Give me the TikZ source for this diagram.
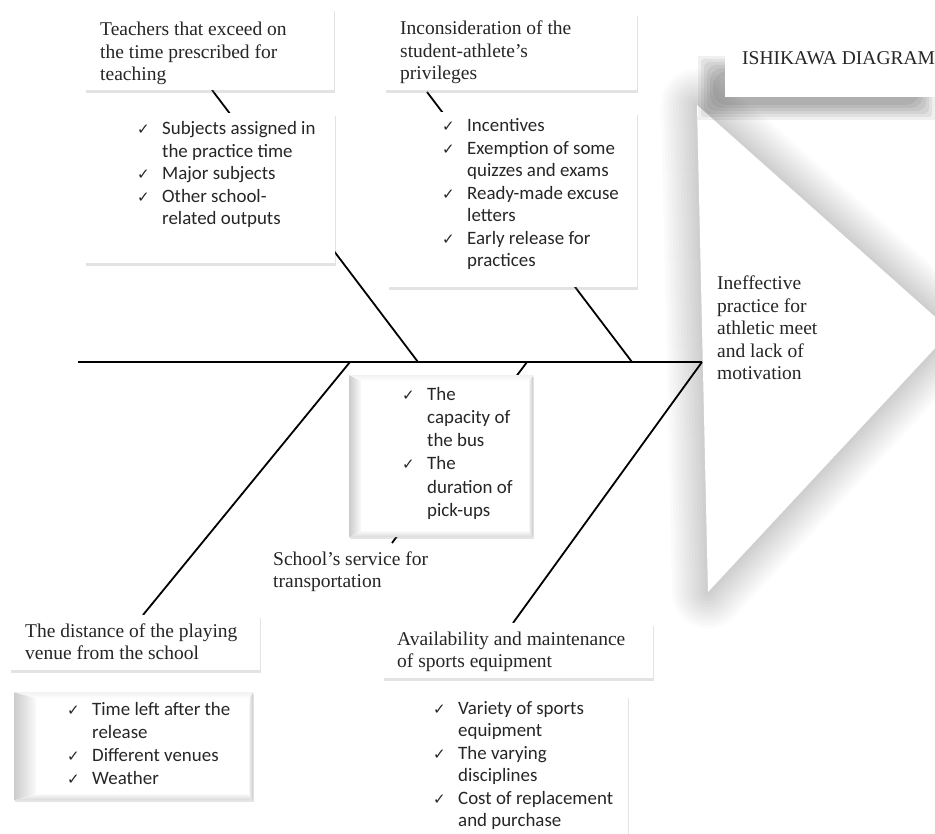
\documentclass[tikz,border=0pt]{standalone}
\usepackage{fontspec}
\setmainfont{Liberation Serif}
\newfontfamily\listfont{Carlito}
\newfontfamily\ckfont{DejaVu Sans}
\usetikzlibrary{shadows,calc}
\definecolor{txt}{HTML}{262626}
\newcommand{\ck}{{\ckfont\fontsize{15}{15}\selectfont ✓}}
\newcommand{\nl}{\hfil\break}
\newcommand{\litem}[1]{\par\hangindent=25pt\hangafter=1\noindent\makebox[25pt][l]{\ck}#1}
\newcommand{\serifset}{\fontsize{19.5}{22.5}\selectfont\raggedright}
\newcommand{\sansset}{\listfont\fontsize{18.9}{22.5}\selectfont\raggedright}
\tikzset{
  box/.style={fill=white, draw=none, anchor=north west, inner sep=0,
    drop shadow={shadow xshift=0.8pt, shadow yshift=-2.5pt, opacity=0.22, fill=gray}},
  bevel/.style={fill=white, draw=none, anchor=north west, inner sep=0,
    path picture={
      \coordinate (nw) at (path picture bounding box.north west);
      \coordinate (ne) at (path picture bounding box.north east);
      \coordinate (sw) at (path picture bounding box.south west);
      \coordinate (se) at (path picture bounding box.south east);
      \shade[left color=gray!40, right color=gray!3] (nw) -- (sw) -- ([shift={(#1,6pt)}]sw) -- ([shift={(#1,-6pt)}]nw) -- cycle;
      \shade[top color=gray!5, bottom color=gray!30] (sw) -- (se) -- ([shift={(-4pt,6pt)}]se) -- ([shift={(#1,6pt)}]sw) -- cycle;
      \shade[left color=gray!10, right color=gray!45] (se) -- (ne) -- ([shift={(-4pt,-6pt)}]ne) -- ([shift={(-4pt,6pt)}]se) -- cycle;
      \shade[top color=gray!10, bottom color=white] (ne) -- (nw) -- ([shift={(#1,-6pt)}]nw) -- ([shift={(-4pt,-6pt)}]ne) -- cycle;
    },
    drop shadow={shadow xshift=0.8pt, shadow yshift=-2pt, opacity=0.2, fill=gray}},
  lbl/.style={anchor=base west, inner sep=0, text=txt},
  bone/.style={draw=black, line width=1.8pt},
}
\begin{document}
\begin{tikzpicture}[x=1pt,y=-1pt]
\useasboundingbox (0,0) rectangle (935,834);
\clip (0,0) rectangle (935,834);
\fill[white] (0,0) rectangle (935,834);

% ---- head (effect) with soft halo
\foreach \w in {72,66,...,6}
  \draw[line width=\w pt, black, opacity=0.016, line join=round] (697,105) -- (951,331) -- (708,592) -- cycle;
\fill[white] (697,105) -- (951,331) -- (708,592) -- cycle;

% ---- title box with shadow
\foreach \d in {0,3,6,9,12,15}
  \fill[black, opacity=0.06, rounded corners=\d pt] ($(698,56)+(\d,\d)$) rectangle ($(935,120)-(\d,\d)$);
\node[fill=white, anchor=north west, inner sep=0, minimum width=215pt, minimum height=55pt] (titlebox) at (725,42) {};
\node[lbl] (title) at (742,65) {\fontsize{19.5}{22.5}\selectfont ISHIKAWA DIAGRAM};

% ---- spine and bones
\coordinate (tail) at (78,362);
\coordinate (head) at (702,362);
\coordinate (s1) at (418,362);
\coordinate (s2) at (632,362);
\coordinate (s3) at (527,362);
\coordinate (s4) at (350,362);
\coordinate (b1) at (212,90);
\coordinate (b2) at (427,92);
\coordinate (b3) at (392,543);
\coordinate (b4) at (143,615);
\coordinate (b5) at (513,623);
\draw[bone] (tail) -- (head);
\draw[bone] (b1) -- (s1);
\draw[bone] (b2) -- (s2);
\draw[bone] (s3) -- (b3);
\draw[bone] (s4) -- (b4);
\draw[bone] (head) -- (b5);

% ---- cause boxes
\node[box, minimum width=249pt, minimum height=82pt] (t1) at (85,8) {};
\node[box, minimum width=250pt, minimum height=150pt] (l1) at (85,113) {};
\node[box, minimum width=252pt, minimum height=77pt] (t2) at (385,13) {};
\node[box, minimum width=249pt, minimum height=175pt] (l2) at (388,112) {};
\node[bevel=12pt, minimum width=184pt, minimum height=162pt] (l3) at (349,375) {};
\node[box, minimum width=250pt, minimum height=55pt] (t4) at (10,615) {};
\node[bevel=22pt, minimum width=239pt, minimum height=108pt] (l4) at (14,692) {};
\node[box, minimum width=270pt, minimum height=55pt] (t5) at (383,623) {};
\node[box, minimum width=248pt, minimum height=160pt] (l5) at (380,695) {};

% ---- texts
\node[lbl] (t1text) at (100,36) {\parbox[t]{240pt}{\serifset Teachers that exceed on\\the time prescribed for\\teaching}};
\node[lbl] (l1text) at (137,135) {\parbox[t]{240pt}{\sansset
  \litem{Subjects assigned in\nl the practice time}\litem{Major subjects}\litem{Other school-\nl related outputs}}};

\node[lbl] (t2text) at (400,35) {\parbox[t]{240pt}{\serifset Inconsideration of the\\student-athlete's\\privileges}};
\node[lbl] (l2text) at (442,132) {\parbox[t]{240pt}{\sansset
  \litem{Incentives}\litem{Exemption of some\nl quizzes and exams}\litem{Ready-made excuse\nl letters}\litem{Early release for\nl practices}}};

\node[lbl] (l3text) at (402,400) {\parbox[t]{200pt}{\listfont\fontsize{18.9}{23.3}\selectfont\raggedright
  \litem{The\nl capacity of\nl the bus}\litem{The\nl duration of\nl pick-ups}}};
\node[lbl] (t3text) at (273,565) {\parbox[t]{240pt}{\serifset School's service for\\transportation}};

\node[lbl] (t4text) at (25,637) {\parbox[t]{240pt}{\serifset The distance of the playing\\venue from the school}};
\node[lbl] (l4text) at (67,715) {\parbox[t]{240pt}{\listfont\fontsize{18.9}{23.3}\selectfont\raggedright
  \litem{Time left after the\nl release}\litem{Different venues}\litem{Weather}}};

\node[lbl] (t5text) at (397,645) {\parbox[t]{260pt}{\serifset Availability and maintenance\\of sports equipment}};
\node[lbl] (l5text) at (433,714) {\parbox[t]{240pt}{\sansset
  \litem{Variety of sports\nl equipment}\litem{The varying\nl disciplines}\litem{Cost of replacement\nl and purchase}}};

\node[lbl] (effect) at (717,290) {\parbox[t]{200pt}{\serifset Ineffective\\practice for\\athletic meet\\and lack of\\motivation}};
\end{tikzpicture}
\end{document}
